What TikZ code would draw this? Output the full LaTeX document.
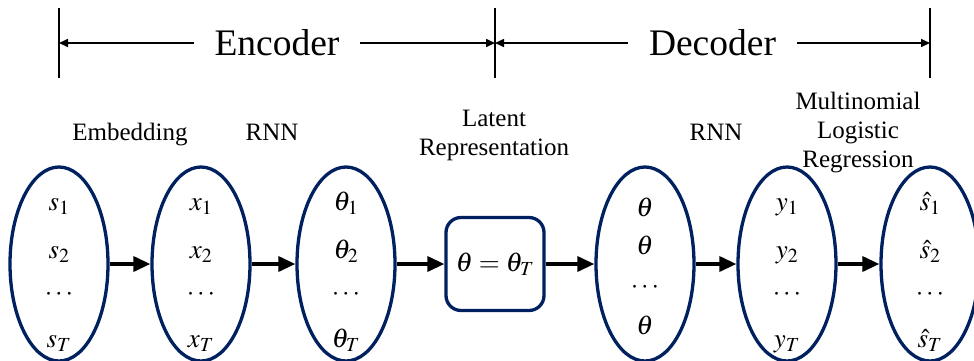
\documentclass[tikz,border=0pt]{standalone}
\usepackage{mathptmx}
\usepackage{fontspec}
\setmainfont{Liberation Serif}
\usepackage{tikz}
\usetikzlibrary{arrows.meta,positioning,calc,shapes.geometric}
\definecolor{SeqNavy}{RGB}{0,32,96}
\tikzset{
  seq/col/.style={
    ellipse,
    draw=SeqNavy,
    line width=3.3pt,
    inner sep=0pt,
    minimum width=98pt,
    minimum height=194pt
  },
  seq/latent/.style={
    draw=SeqNavy,
    line width=3.3pt,
    rounded corners=15pt,
    minimum width=98pt,
    minimum height=93pt,
    inner sep=0pt,
    font=\fontsize{27}{30}\selectfont
  },
  seq/entry/.style={anchor=base, inner sep=0pt, font=\fontsize{27}{30}\selectfont},
  seq/label/.style={align=center, inner sep=0pt, font=\fontsize{25}{29}\selectfont},
  seq/flow/.style={-{Triangle[length=17pt,width=15pt]}, line width=3.5pt, draw=black},
  seq/span/.style={{Triangle[length=9pt,width=8pt]}-{Triangle[length=9pt,width=8pt]}, line width=1.6pt},
  seq/tick/.style={line width=1.8pt},
  seq/spanlabel/.style={fill=white, inner xsep=21pt, inner ysep=0pt, font=\fontsize{37.5}{40}\selectfont}
}
% entries of one column: node name, list of text/offset
\newcommand\colentries[2]{%
  \foreach \txt/\dy [count=\i] in {#2}
    \node[seq/entry] (#1-\i) at ($(#1.center)+(0,\dy)$) {\txt};
}

\begin{document}
\begin{tikzpicture}[x=1pt,y=-1pt]
  \useasboundingbox (0,0) rectangle (974,360);
  % encoder / decoder spans
  \coordinate (encL) at (59,43);
  \coordinate (mid) at (495,43);
  \coordinate (decR) at (930,43);
  \foreach \c in {encL,mid,decR}
    \draw[seq/tick] ([yshift=35pt]\c) -- ([yshift=-35pt]\c);
  \draw[seq/span] (encL) -- node[seq/spanlabel] (enclbl) {Encoder} (mid);
  \draw[seq/span] (mid) -- node[seq/spanlabel] (declbl) {Decoder} (decR);

  % columns
  \foreach \nm/\x in {emb/59,enc/201,hid/346,dec/645,out/787,pred/930}
    \node[seq/col] (\nm) at (\x,264) {};
  \node[seq/latent] (lat) at (495,264) {$\theta=\theta_T$};

  \colentries{emb}{$s_1$/-54,$s_2$/-6,$\cdots$/36,$s_T$/83}
  \colentries{enc}{$x_1$/-54,$x_2$/-6,$\cdots$/36,$x_T$/83}
  \colentries{hid}{$\theta_1$/-54,$\theta_2$/-6,$\cdots$/36,$\theta_T$/83}
  \colentries{dec}{$\theta$/-48,$\theta$/-10,$\cdots$/29,$\theta$/70}
  \colentries{out}{$y_1$/-54,$y_2$/-6,$\cdots$/36,$y_T$/83}
  \colentries{pred}{$\hat{s}_1$/-54,$\hat{s}_2$/-6,$\cdots$/36,$\hat{s}_T$/83}

  \draw[seq/flow] (emb) -- (enc);
  \draw[seq/flow] (enc) -- (hid);
  \draw[seq/flow] (hid) -- (lat);
  \draw[seq/flow] (lat) -- (dec);
  \draw[seq/flow] (dec) -- (out);
  \draw[seq/flow] (out) -- (pred);

  % stage labels
  \node[seq/label,anchor=base] (embl) at (130,140) {Embedding};
  \node[seq/label,anchor=base] (rnnl) at (272,140) {RNN};
  \node[seq/label] (latl) at (494,135) {Latent\\Representation};
  \node[seq/label,anchor=base] (rnn2l) at (716,140) {RNN};
  \node[seq/label] (mlrl) at (858,133) {Multinomial\\Logistic\\Regression};
\end{tikzpicture}
\end{document}
